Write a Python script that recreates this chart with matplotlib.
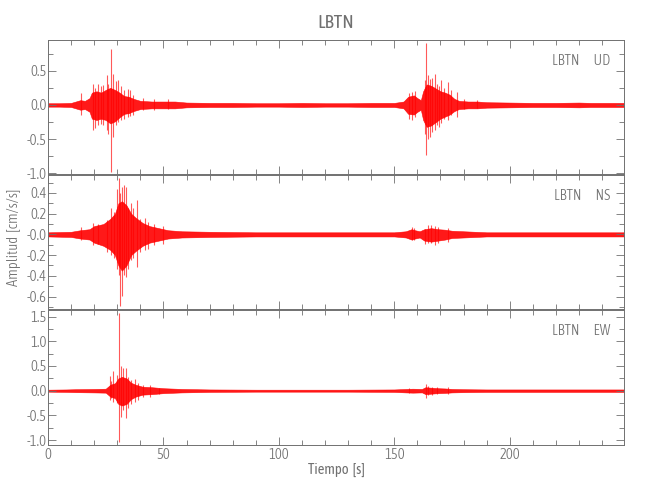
import matplotlib
matplotlib.use("Agg")
import matplotlib.pyplot as plt
from matplotlib.ticker import FixedLocator, MultipleLocator

station = "LBTN"
components = ["UD", "NS", "EW"]
xlabel = "Tiempo  [s]"
ylabel = "Amplitud  [cm/s/s]"
x_ticks = [0, 50, 100, 150, 200]
x_ticklabels = ["0", "50", "100", "150", "200"]

# ---------------- UD ----------------
ud_env_t = [0, 5, 10, 12, 14, 16, 18, 19, 21, 23, 25, 27, 29, 31, 33, 35, 37, 40, 45, 50,
            55, 60, 70, 80, 90, 100, 110, 120, 130, 140, 150, 154, 156, 158.5, 160, 161.5,
            162.5, 164, 166, 168, 170, 172, 174, 176, 178, 182, 186, 190, 200, 210, 220,
            230, 235, 240, 250]
ud_env_hi = [0.025, 0.025, 0.03, 0.05, 0.07, 0.06, 0.1, 0.18, 0.2, 0.18, 0.22, 0.25, 0.22,
             0.18, 0.13, 0.12, 0.09, 0.06, 0.05, 0.05, 0.05, 0.035, 0.03, 0.03, 0.025,
             0.025, 0.03, 0.025, 0.025, 0.03, 0.03, 0.05, 0.12, 0.14, 0.1, 0.07, 0.2, 0.3,
             0.28, 0.24, 0.2, 0.18, 0.15, 0.09, 0.06, 0.05, 0.05, 0.04, 0.035, 0.03, 0.03,
             0.035, 0.03, 0.03, 0.03]
ud_env_lo = [-0.025, -0.025, -0.03, -0.05, -0.07, -0.06, -0.1, -0.2, -0.22, -0.2, -0.22,
             -0.27, -0.24, -0.18, -0.13, -0.12, -0.09, -0.06, -0.05, -0.05, -0.05, -0.035,
             -0.03, -0.03, -0.025, -0.025, -0.03, -0.025, -0.025, -0.03, -0.03, -0.05,
             -0.13, -0.14, -0.1, -0.07, -0.22, -0.32, -0.3, -0.25, -0.2, -0.17, -0.14,
             -0.09, -0.06, -0.05, -0.05, -0.04, -0.035, -0.03, -0.03, -0.035, -0.03,
             -0.03, -0.03]
ud_spk_t = [14.5, 19.5, 20.5, 21.7, 23, 24, 25.5, 26.2, 27.1, 28.3, 29.5, 30.3, 31.5, 33,
            34.5, 35.5, 37, 41, 46, 52,
            156.5, 157.5, 158.8, 163.2, 163.9, 164.6, 165.3, 166.2, 167.5, 168.5, 169.3,
            170.4, 171.5, 173.3, 174.5, 177, 180, 186]
ud_spk_hi = [0.17, 0.31, 0.25, 0.31, 0.27, 0.29, 0.44, 0.3, 0.82, 0.46, 0.35, 0.37, 0.28,
             0.22, 0.24, 0.22, 0.14, 0.1, 0.08, 0.08,
             0.17, 0.19, 0.2, 0.36, 0.9, 0.44, 0.38, 0.4, 0.46, 0.3, 0.27, 0.36, 0.25,
             0.34, 0.22, 0.19, 0.08, 0.07]
ud_spk_lo = [-0.15, -0.37, -0.33, -0.3, -0.28, -0.3, -0.37, -0.42, -0.975, -0.47, -0.3,
             -0.25, -0.22, -0.2, -0.18, -0.16, -0.15, -0.08, -0.07, -0.06,
             -0.2, -0.22, -0.18, -0.42, -0.73, -0.5, -0.47, -0.4, -0.37, -0.3, -0.32,
             -0.27, -0.2, -0.22, -0.15, -0.17, -0.06, -0.05]

# ---------------- NS ----------------
ns_env_t = [0, 10, 14, 18, 20, 24, 27, 29, 30.5, 32, 34, 36, 38, 41, 44, 48, 52, 58, 70,
            90, 110, 130, 150, 155, 157.5, 159, 161, 163, 166, 169, 172, 175, 180, 190,
            210, 230, 250]
ns_env_hi = [0.02, 0.025, 0.04, 0.05, 0.08, 0.1, 0.15, 0.2, 0.3, 0.32, 0.28, 0.2, 0.16,
             0.11, 0.08, 0.06, 0.04, 0.03, 0.025, 0.02, 0.02, 0.02, 0.02, 0.03, 0.05,
             0.04, 0.03, 0.05, 0.06, 0.05, 0.045, 0.035, 0.03, 0.02, 0.02, 0.02, 0.02]
ns_env_lo = [-0.02, -0.025, -0.04, -0.05, -0.08, -0.11, -0.15, -0.2, -0.3, -0.35, -0.3,
             -0.2, -0.16, -0.11, -0.08, -0.06, -0.04, -0.03, -0.025, -0.02, -0.02, -0.02,
             -0.02, -0.03, -0.05, -0.04, -0.03, -0.06, -0.07, -0.06, -0.05, -0.035,
             -0.03, -0.02, -0.02, -0.02, -0.02]
ns_spk_t = [14.5, 19.5, 21.5, 25.5, 27.5, 28.5, 29.7, 30.7, 31.2, 31.9, 33, 34, 34.8, 36,
            37, 38.4, 40, 42, 43.5, 46, 50,
            157.5, 158.5, 163.2, 164.5, 166, 167.5, 169, 173.3]
ns_spk_hi = [0.07, 0.11, 0.1, 0.14, 0.25, 0.22, 0.44, 0.54, 0.4, 0.46, 0.48, 0.46, 0.25,
             0.3, 0.25, 0.33, 0.15, 0.16, 0.12, 0.1, 0.08,
             0.07, 0.06, 0.05, 0.09, 0.09, 0.08, 0.07, 0.06]
ns_spk_lo = [-0.05, -0.1, -0.09, -0.17, -0.2, -0.23, -0.33, -0.39, -0.69, -0.59, -0.39,
             -0.41, -0.33, -0.25, -0.23, -0.31, -0.17, -0.15, -0.14, -0.1, -0.09,
             -0.05, -0.05, -0.09, -0.08, -0.08, -0.1, -0.08, -0.07]

# ---------------- EW ----------------
ew_env_t = [0, 8, 12, 20, 25, 27, 29, 30.5, 32, 34, 36, 38, 41, 45, 50, 58, 70, 90, 110,
            130, 150, 155, 158, 162, 163.5, 166, 169, 172, 175, 180, 190, 210, 230, 250]
ew_env_hi = [0.02, 0.025, 0.03, 0.035, 0.04, 0.12, 0.15, 0.25, 0.28, 0.25, 0.16, 0.12,
             0.08, 0.07, 0.05, 0.035, 0.025, 0.02, 0.02, 0.02, 0.025, 0.035, 0.04, 0.035,
             0.07, 0.06, 0.05, 0.045, 0.035, 0.03, 0.025, 0.025, 0.025, 0.025]
ew_env_lo = [-0.02, -0.025, -0.03, -0.035, -0.04, -0.12, -0.15, -0.27, -0.3, -0.27,
             -0.17, -0.12, -0.08, -0.07, -0.05, -0.035, -0.025, -0.02, -0.02, -0.02,
             -0.025, -0.035, -0.04, -0.035, -0.07, -0.06, -0.05, -0.045, -0.035, -0.03,
             -0.025, -0.025, -0.025, -0.025]
ew_spk_t = [27, 27.5, 28.3, 29.7, 30.9, 31.6, 32.6, 33.6, 34.8, 36, 37.5, 39, 41, 44, 48,
            156.5, 163.9, 164.8, 166.5, 168.5, 173.3]
ew_spk_hi = [0.3, 0.2, 0.39, 0.31, 1.57, 0.49, 0.45, 0.45, 0.28, 0.22, 0.23, 0.15, 0.12,
             0.11, 0.06, 0.05, 0.14, 0.1, 0.08, 0.07, 0.07]
ew_spk_lo = [-0.19, -0.15, -0.22, -0.25, -1.03, -0.53, -0.39, -0.56, -0.36, -0.26, -0.22,
             -0.18, -0.12, -0.12, -0.07, -0.05, -0.15, -0.09, -0.08, -0.07, -0.06]

# axis setup per panel
ylims = [(-1.01, 0.95), (-0.72, 0.573), (-1.10, 1.634)]
yticks = [[0.5, 0.0, -0.5, -1.0], [0.4, 0.2, 0.0, -0.2, -0.4, -0.6],
          [1.5, 1.0, 0.5, 0.0, -0.5, -1.0]]
yticklabels = [["0.5", "0.0", "-0.5", "-1.0"], ["0.4", "0.2", "-0.0", "-0.2", "-0.4", "-0.6"],
               ["1.5", "1.0", "0.5", "0.0", "-0.5", "-1.0"]]
yminor = [0.25, 0.1, 0.25]

envs = [(ud_env_t, ud_env_hi, ud_env_lo, ud_spk_t, ud_spk_hi, ud_spk_lo),
        (ns_env_t, ns_env_hi, ns_env_lo, ns_spk_t, ns_spk_hi, ns_spk_lo),
        (ew_env_t, ew_env_hi, ew_env_lo, ew_spk_t, ew_spk_hi, ew_spk_lo)]

FONT = ["Asap Condensed", "DejaVu Sans"]
GRAY = "#707070"
plt.rcParams["font.family"] = FONT
plt.rcParams["font.weight"] = 300

fig = plt.figure(figsize=(6.5, 5.0), dpi=100)
left, right = 48 / 650, 624 / 650
panels_px = [(40, 174), (175, 309), (310, 445)]

for i, (top, bot) in enumerate(panels_px):
    ax = fig.add_axes([left, 1 - bot / 500, right - left, (bot - top) / 500])
    et, ehi, elo, st, shi, slo = envs[i]
    ax.fill_between(et, elo, ehi, color="red", lw=0.4, alpha=0.9)
    ax.vlines(st, slo, shi, color="red", lw=0.8, alpha=0.65)
    ax.set_xlim(0, 249.5)
    ax.set_ylim(*ylims[i])
    ax.xaxis.set_major_locator(FixedLocator(x_ticks))
    ax.xaxis.set_minor_locator(MultipleLocator(10))
    ax.yaxis.set_major_locator(FixedLocator(yticks[i]))
    ax.yaxis.set_minor_locator(MultipleLocator(yminor[i]))
    ax.set_yticklabels(yticklabels[i])
    if i == 2:
        ax.set_xticklabels(x_ticklabels)
        ax.set_xlabel(xlabel, color=GRAY, fontsize=10.5, labelpad=1)
    else:
        ax.set_xticklabels([])
    ax.tick_params(which="both", direction="in", top=True, right=True, colors=GRAY,
                   labelcolor=GRAY, labelsize=10.5, width=0.6)
    ax.tick_params(which="major", length=6, pad=2)
    ax.tick_params(axis="y", which="major", pad=1)
    ax.tick_params(which="minor", length=3.5)
    for s in ax.spines.values():
        s.set_color(GRAY)
        s.set_linewidth(0.7)
    ax.text(0.976, 0.843, f"{station}       {components[i]}", transform=ax.transAxes,
            ha="right", va="center", color=GRAY, fontsize=10.5)
    if i == 0:
        ax.set_title(station, color=GRAY, fontsize=14, pad=9)

fig.text(14 / 650, 1 - 237 / 500, ylabel, rotation=90, ha="center", va="center",
         color=GRAY, fontsize=10.5)

fig.savefig("out.png", dpi=100)
